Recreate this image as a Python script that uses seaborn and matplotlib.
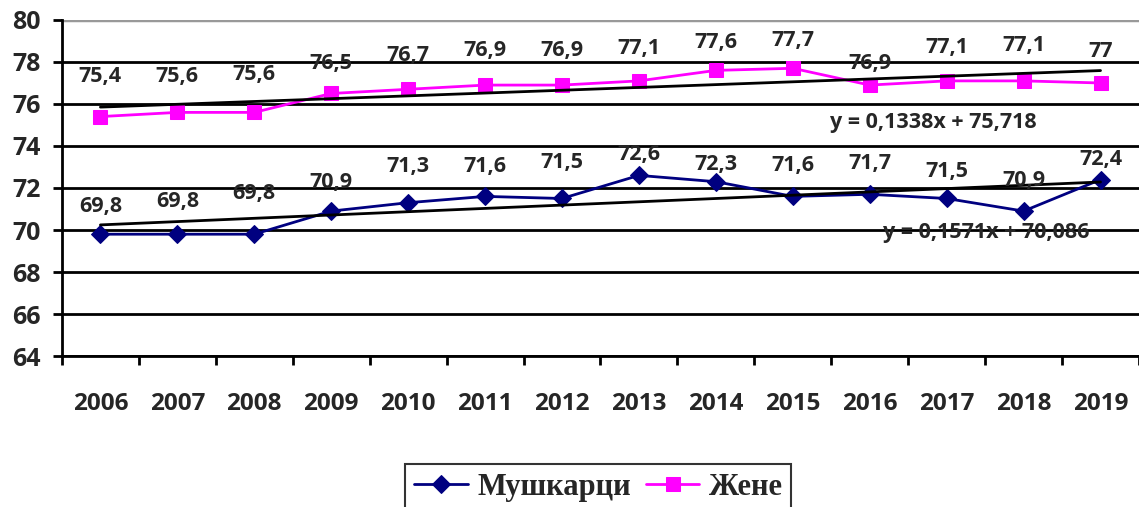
import numpy as np
import pandas as pd
import seaborn as sns
import matplotlib.pyplot as plt

years = ['2006', '2007', '2008', '2009', '2010', '2011', '2012',
         '2013', '2014', '2015', '2016', '2017', '2018', '2019']
muski = [69.8, 69.8, 69.8, 70.9, 71.3, 71.6, 71.5, 72.6, 72.3, 71.6, 71.7, 71.5, 70.9, 72.4]
zeni = [75.4, 75.6, 75.6, 76.5, 76.7, 76.9, 76.9, 77.1, 77.6, 77.7, 76.9, 77.1, 77.1, 77.0]
eq_muski = 'y = 0,1571x + 70,086'
eq_zeni = 'y = 0,1338x + 75,718'

# label offsets in pixels (Excel placed them unevenly)
dy_muski = [28, 33, 41, 29, 36, 30, 36, 21, 17, 31, 31, 27, 31, 20]
dy_zeni = [40, 36, 38, 30, 34, 35, 35, 32, 28, 28, 22, 33, 35, 31]

sns.set_style('white')
plt.rcParams['font.family'] = ['Open Sans', 'DejaVu Sans']

df = pd.DataFrame({'x': np.arange(len(years)), 'm': muski, 'z': zeni})

fig = plt.figure(figsize=(11.39, 5.07), dpi=100)
ax = fig.add_axes([0.0544, 0.2978, 0.9456, 0.6628])

for v in [64, 66, 68, 70, 72, 74, 76, 78]:
    ax.axhline(v, color='black', lw=2, zorder=1)
ax.axhline(80, color='#999999', lw=2.5, zorder=1)

sns.lineplot(data=df, x='x', y='m', ax=ax, color='#000080', marker='D',
             markersize=9, markeredgecolor='#000080', lw=2, label='Мушкарци', zorder=3)
sns.lineplot(data=df, x='x', y='z', ax=ax, color='#FF00FF', marker='s',
             markersize=10, markeredgecolor='#FF00FF', lw=2, label='Жене', zorder=3)

# linear trends
t = np.arange(1, len(years) + 1)
for vals in (muski, zeni):
    k, b = np.polyfit(t, vals, 1)
    ax.plot(df['x'], k * t + b, color='black', lw=2, zorder=4)

for i in range(len(years)):
    ax.annotate(f'{muski[i]:g}'.replace('.', ','), (i, muski[i]), xytext=(0, dy_muski[i]),
                textcoords='offset pixels', ha='center', va='center',
                fontsize=15.5, fontweight='bold', zorder=5)
    ax.annotate(f'{zeni[i]:g}'.replace('.', ','), (i, zeni[i]), xytext=(0, dy_zeni[i]),
                textcoords='offset pixels', ha='center', va='center',
                fontsize=15.5, fontweight='bold', zorder=5)

ax.text(10.82, 75.14, eq_zeni, ha='center', va='center', fontsize=15.5, fontweight='bold', zorder=5)
ax.text(11.52, 69.9, eq_muski, ha='center', va='center', fontsize=15.5, fontweight='bold', zorder=5)

ax.set_xlim(-0.5, len(years) - 0.5)
ax.set_ylim(64, 80)
ax.set_yticks(range(64, 81, 2))
ax.set_yticklabels([str(v) for v in range(64, 81, 2)], fontsize=18, fontweight='bold')
ax.set_xticks(np.arange(-0.5, len(years), 1))
ax.set_xticklabels([])
ax.set_xticks(np.arange(len(years)), minor=True)
ax.set_xticklabels(years, minor=True, fontsize=17.5, fontweight='bold')
ax.tick_params(axis='x', which='major', direction='out', length=6.5, width=2, color='black', bottom=True)
ax.tick_params(axis='x', which='minor', length=0, pad=26)
ax.tick_params(axis='y', direction='out', length=6.5, width=2, color='black', left=True, pad=9)
ax.set_xlabel('')
ax.set_ylabel('')

for s in ['top', 'right']:
    ax.spines[s].set_visible(False)
ax.spines['left'].set_color('black')
ax.spines['left'].set_linewidth(2)
ax.spines['bottom'].set_color('black')
ax.spines['bottom'].set_linewidth(2)

ax.get_legend().remove()
h, l = ax.get_legend_handles_labels()
leg = fig.legend(h, l, loc='center', bbox_to_anchor=(0.525, 0.039), ncol=2,
                 frameon=True, fancybox=False, edgecolor='black', handlelength=1.75,
                 handletextpad=0.3, columnspacing=0.5, borderpad=0.3, borderaxespad=0,
                 prop={'family': 'Liberation Serif', 'weight': 'bold', 'size': 22})
leg.get_frame().set_linewidth(1.5)

fig.savefig('out.png', dpi=100)
